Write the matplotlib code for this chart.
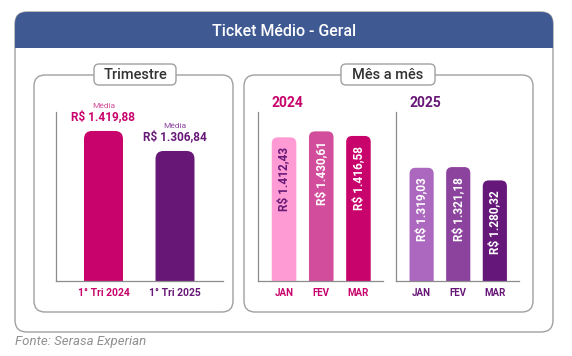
import matplotlib.pyplot as plt
from matplotlib.patches import FancyBboxPatch, Rectangle

plt.rcParams['font.family'] = ['Roboto', 'DejaVu Sans']

# dados
tri_labels = ['1° Tri 2024', '1° Tri 2025']
tri_values = [1419.88, 1306.84]
tri_colors = ['#C8036B', '#671877']

months = ['JAN', 'FEV', 'MAR']
vals_2024 = [1412.43, 1430.61, 1416.58]
vals_2025 = [1319.03, 1321.18, 1280.32]
cols_2024 = ['#FF9BD4', '#D24D9B', '#C8036B']
cols_2025 = ['#AB68BE', '#8B439E', '#65177A']
txt_2024 = ['#671877', 'white', 'white']
txt_2025 = ['white', 'white', 'white']

PINK = '#C8036B'
PURPLE = '#671877'
GRAY = '#A0A0A0'
W, H = 572, 356


def fmt(v):
    s = f'{v:,.2f}'
    return 'R$ ' + s.replace(',', 'X').replace('.', ',').replace('X', '.')


fig = plt.figure(figsize=(W / 100, H / 100), dpi=100)

# fundo em coordenadas de pixel
bg = fig.add_axes([0, 0, 1, 1], zorder=0)
bg.set_xlim(0, W)
bg.set_ylim(H, 0)
bg.axis('off')

bg.add_patch(FancyBboxPatch((15, 12), 538, 320, boxstyle='round,pad=0,rounding_size=12',
                            fc='white', ec=GRAY, lw=1))
bg.add_patch(FancyBboxPatch((15, 12), 538, 36, boxstyle='round,pad=0,rounding_size=12',
                            fc='#3F5A93', ec='none'))
bg.add_patch(Rectangle((15, 30), 538, 18, fc='#3F5A93', ec='none'))
bg.text(284, 31, 'Ticket Médio - Geral', color='white', fontsize=11.5, weight='medium',
        ha='center', va='center')

for x0, w0, lbl, lx, lw_ in [(34, 199, 'Trimestre', 94, 82), (244, 289, 'Mês a mês', 341, 94)]:
    bg.add_patch(FancyBboxPatch((x0, 75), w0, 237, boxstyle='round,pad=0,rounding_size=11',
                                fc='none', ec=GRAY, lw=1))
    bg.add_patch(FancyBboxPatch((lx, 64), lw_, 21, boxstyle='round,pad=0,rounding_size=5',
                                fc='white', ec=GRAY, lw=1))
    bg.text(lx + lw_ / 2, 75, lbl, fontsize=10.5, color='#333333', weight='medium',
            ha='center', va='center')

bg.text(271, 103, '2024', color=PINK, fontsize=10, weight='bold', ha='left', va='center')
bg.text(409, 103, '2025', color=PURPLE, fontsize=10, weight='bold', ha='left', va='center')
bg.text(15, 342, 'Fonte: Serasa Experian', color='#909090', fontsize=9.5, style='italic',
        ha='left', va='center')


def make_ax(x0, x1, xlim, ylim):
    ax = fig.add_axes([x0 / W, 1 - 281 / H, (x1 - x0) / W, 169 / H], zorder=1)
    ax.patch.set_visible(False)
    ax.set_xlim(*xlim)
    ax.set_ylim(*ylim)
    for s in ['top', 'right']:
        ax.spines[s].set_visible(False)
    for s in ['left', 'bottom']:
        ax.spines[s].set_color('#8C8C8C')
        ax.spines[s].set_linewidth(0.9)
    ax.set_yticks([])
    ax.tick_params(axis='x', length=0, pad=5)
    return ax


def rounded_bars(ax, values, colors, width, r_px):
    bars = ax.bar(range(len(values)), values, width=width, color=colors)
    bb = ax.get_window_extent()
    xpp = (ax.get_xlim()[1] - ax.get_xlim()[0]) / bb.width
    ypp = (ax.get_ylim()[1] - ax.get_ylim()[0]) / bb.height
    for b, c in zip(bars, colors):
        b.set_visible(False)
        ax.add_patch(FancyBboxPatch((b.get_x(), 0), b.get_width(), b.get_height(),
                                    boxstyle=f'round,pad=0,rounding_size={r_px * xpp}',
                                    mutation_aspect=ypp / xpp, fc=c, ec='none'))


def color_ticks(ax, labels, colors, size):
    ax.set_xticks(range(len(labels)))
    ax.set_xticklabels(labels, fontsize=size, weight='bold')
    for t, c in zip(ax.get_xticklabels(), colors):
        t.set_color(c)


# Trimestre
ax1 = make_ax(56, 223, (-0.664, 1.671), (572, 1527))
rounded_bars(ax1, tri_values, tri_colors, 0.545, 8)
color_ticks(ax1, tri_labels, tri_colors, 7.5)
for i, v in enumerate(tri_values):
    c = tri_colors[i]
    ax1.annotate(fmt(v), (i, v), xytext=(0, 10), textcoords='offset points', ha='center',
                 va='center', fontsize=8.5, weight='bold', color=c)
    ax1.annotate('Média', (i, v), xytext=(0, 18), textcoords='offset points', ha='center',
                 va='center', fontsize=6, color='#D24D9B' if i == 0 else '#8B439E')

# Mês a mês
for x0, x1, vals, cols, tcols, lab_c in [(258, 383, vals_2024, cols_2024, txt_2024, PINK),
                                         (396, 519, vals_2025, cols_2025, txt_2025, PURPLE)]:
    ax = make_ax(x0, x1, (-0.7, 2.66), (972, 1490))
    rounded_bars(ax, vals, cols, 0.66, 6)
    color_ticks(ax, months, [lab_c] * 3, 7)
    for i, v in enumerate(vals):
        ax.annotate(fmt(v), (i, v), xytext=(0, -7), textcoords='offset points',
                    rotation=90, ha='center', va='top', fontsize=8.5, weight='bold',
                    color=tcols[i])

fig.savefig('out.png', dpi=100)
